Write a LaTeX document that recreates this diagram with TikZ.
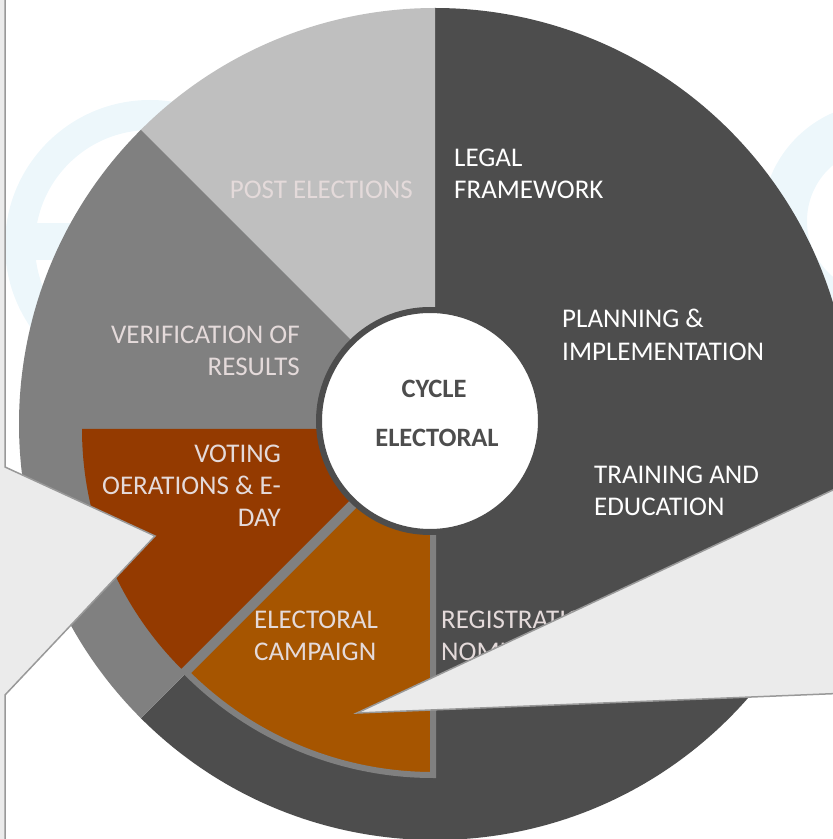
\documentclass[tikz,border=0pt]{standalone}
\usepackage{fontspec}
\setmainfont{Carlito}
\definecolor{dk}{HTML}{4D4D4D}
\definecolor{md}{HTML}{808080}
\definecolor{lt}{HTML}{BFBFBF}
\definecolor{brn}{HTML}{943A00}
\definecolor{org}{HTML}{A65500}
\definecolor{txl}{HTML}{E4DADA}
\definecolor{cofill}{HTML}{EBEBEB}
\definecolor{costroke}{HTML}{999999}
\definecolor{wm}{HTML}{EDF7FB}
\tikzset{
  lbl/.style={inner sep=0pt, font=\fontsize{27}{32}\selectfont},
  wlbl/.style={lbl, text=white},
  plbl/.style={lbl, text=txl},
  clbl/.style={lbl, text=dk, font=\fontsize{26.5}{32}\selectfont\bfseries},
  callout/.style={fill=cofill, draw=costroke, line width=1.5pt, line join=miter},
}
\begin{document}
\begin{tikzpicture}[x=1pt,y=1pt]
\useasboundingbox (0,0) rectangle (833,839);
\begin{scope}
\clip (0,0) rectangle (833,839);
% faint watermark rings
\fill[wm, even odd rule] (150,594) circle (145) (150,594) circle (115);
\fill[wm] (35,579) rectangle (265,616);
\fill[wm, even odd rule] (880,618) circle (118) (880,618) circle (73);
% main wheel
\coordinate (c) at (435,415);
\fill[dk] (c) -- ++(-135:416) arc[start angle=-135, end angle=90, radius=416] -- cycle;
\fill[lt] (c) -- ++(90:416) arc[start angle=90, end angle=135, radius=416] -- cycle;
\fill[md] (c) -- ++(135:416) arc[start angle=135, end angle=225, radius=416] -- cycle;
% exploded slices
\coordinate (bc) at (421,410);
\fill[brn] (bc) -- ++(180:339) arc[start angle=180, end angle=225, radius=339] -- cycle;
\coordinate (oc) at (433,412);
\filldraw[fill=org, draw=md, line width=6pt, line join=miter] (oc) -- ++(225:348) arc[start angle=225, end angle=270, radius=348] -- cycle;
% centre disc
\node[circle, fill=white, draw=dk, line width=6pt, minimum size=222pt, inner sep=0pt] (hub) at (430,418) {};
\node[clbl, anchor=base] (cyc) at (434,441) {CYCLE};
\node[clbl, anchor=base] (ele) at (437,392) {ELECTORAL};
% labels
\node[wlbl, anchor=base west] (legal) at (454,672) {LEGAL};
\node[wlbl, anchor=base west] (frame) at (454,640) {FRAMEWORK};
\node[plbl, anchor=base east] (post) at (413,640) {POST ELECTIONS};
\node[wlbl, anchor=base west] (plan) at (562,511) {PLANNING \&};
\node[wlbl, anchor=base west] (impl) at (562,478) {IMPLEMENTATION};
\node[plbl, anchor=base east] (verif) at (300,495) {VERIFICATION OF};
\node[plbl, anchor=base east] (res) at (300,463) {RESULTS};
\node[plbl, anchor=base east] (vot) at (281,376) {VOTING};
\node[plbl, anchor=base east] (oer) at (281,344) {OERATIONS \& E-};
\node[plbl, anchor=base east] (day) at (281,312) {DAY};
\node[wlbl, anchor=base west] (train) at (594,355) {TRAINING AND};
\node[wlbl, anchor=base west] (edu) at (594,323) {EDUCATION};
\node[plbl, anchor=base west] (camp1) at (254,210) {ELECTORAL};
\node[plbl, anchor=base west] (camp2) at (254,178) {CAMPAIGN};
\node[plbl, anchor=base west] (reg1) at (441,210) {REGISTRATION};
\node[plbl, anchor=base west] (reg2) at (441,178) {NOMINATION};
% callouts
\filldraw[callout] (357,126) -- (850,357) -- (850,146) -- cycle;
\filldraw[callout] (-20,-20) -- (5,-20) -- (5,144) -- (155,303) -- (5,372) -- (5,860) -- (-20,860) -- cycle;
\end{scope}
\end{tikzpicture}
\end{document}
